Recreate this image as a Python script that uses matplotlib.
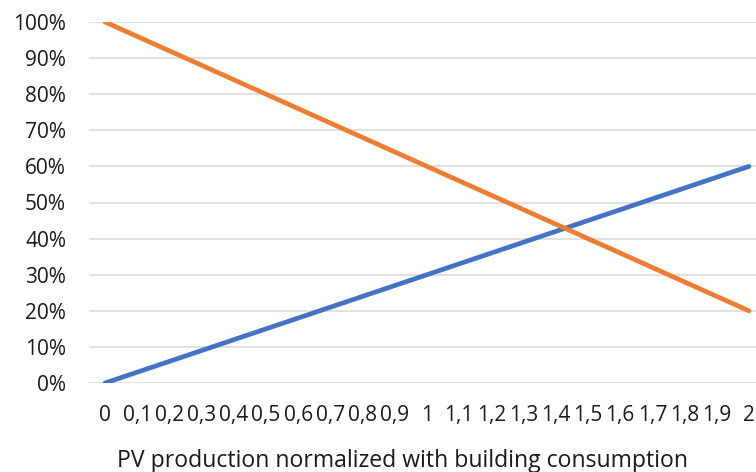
import matplotlib
matplotlib.use("Agg")
import matplotlib.pyplot as plt

# category labels along x (decimal comma as in the source)
categories = ["0", "0,1", "0,2", "0,3", "0,4", "0,5", "0,6", "0,7", "0,8", "0,9", "1",
              "1,1", "1,2", "1,3", "1,4", "1,5", "1,6", "1,7", "1,8", "1,9", "2"]

# values in percent
blue_series = [0, 3, 6, 9, 12, 15, 18, 21, 24, 27, 30, 33, 36, 39, 42, 45, 48, 51, 54, 57, 60]
orange_series = [100, 96, 92, 88, 84, 80, 76, 72, 68, 64, 60, 56, 52, 48, 44, 40, 36, 32, 28, 24, 20]

y_ticks = [0, 10, 20, 30, 40, 50, 60, 70, 80, 90, 100]

plt.rcParams["font.family"] = ["Open Sans", "DejaVu Sans"]

W, H = 756, 472
fig = plt.figure(figsize=(W / 100, H / 100), dpi=100)

# plot area runs a bit past the right edge of the image
left, right = 89, 765
top, bottom = 22, 383
ax = fig.add_axes([left / W, 1 - bottom / H, (right - left) / W, (bottom - top) / H])

x = list(range(len(categories)))
ax.plot(x, blue_series, color="#4472c4", lw=3.4, solid_capstyle="round", zorder=3)
ax.plot(x, orange_series, color="#ed7d31", lw=3.4, solid_capstyle="round", zorder=3)

ax.set_xlim(-0.5, len(categories) - 0.5)
ax.set_ylim(0, 100)
ax.set_yticks(y_ticks)
ax.set_yticklabels([f"{v}%" for v in y_ticks], fontsize=15, color="#1a1a1a")
ax.set_xticks(x)
ax.set_xticklabels(categories, fontsize=15, color="#1a1a1a")
ax.tick_params(length=0)
ax.tick_params(axis="y", pad=16.5)
ax.tick_params(axis="x", pad=16)

ax.grid(axis="y", color="#d9d9d9", lw=1.1)
ax.set_axisbelow(True)
for s in ax.spines.values():
    s.set_visible(False)

fig.text(403 / W, 1 - 467 / H, "PV production normalized with building consumption",
         ha="center", va="baseline", fontsize=16.6, color="#1a1a1a")

fig.savefig("out.png", dpi=100)
